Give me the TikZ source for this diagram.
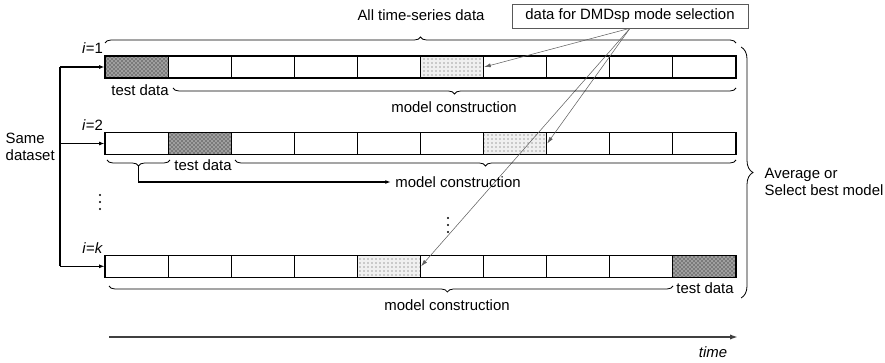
\documentclass[tikz,border=0pt]{standalone}
\usepackage{fontspec}
\setmainfont{Liberation Sans}
\usetikzlibrary{patterns,decorations.pathreplacing,arrows.meta}

\tikzset{
  cell/.style={draw, line width=0.8pt, minimum width=47.3pt, minimum height=16.5pt, inner sep=0pt},
  testcell/.style={preaction={fill=gray!75}, pattern=crosshatch dots, pattern color=black},
  selcell/.style={preaction={fill=gray!12}, pattern=dots, pattern color=gray!60!black},
  brc/.style={decorate, decoration={brace, amplitude=4.5pt}, line width=0.6pt},
  pick/.style={-{Latex[length=5pt,width=3pt]}, gray!75!black, line width=0.4pt},
  feed/.style={-{Latex[length=4pt,width=3pt]}, line width=0.8pt},
}

\begin{document}
\begin{tikzpicture}[x=0.75pt, y=-0.75pt, font=\fontsize{11.2}{13}\selectfont,
    c1-1/.style={testcell}, c1-6/.style={selcell},
    c2-2/.style={testcell}, c2-7/.style={selcell},
    ck-10/.style={testcell}, ck-5/.style={selcell}]
    \useasboundingbox (0,0) rectangle (885,363);

    % Rows of blocks
    \foreach \row/\y/\lab in {1/67/1, 2/143.5/2, k/266.3/\textit{k}}{
        \foreach \col in {1,...,10}
            \node[cell, c\row-\col/.try] (r\row-\col) at ({105+63.1*(\col-0.5)},\y) {};
        \node[anchor=south east, inner sep=1pt] (i\row) at (r\row-1.north west) {\textit{i}=\lab};
    }

    % All data
    \draw[brc] (105,43) -- (736,43);
    \node (all) at (421,15) {All time-series data};

    % Mode selection
    \node[draw=gray!70!black, minimum width=177pt, minimum height=18pt, inner sep=0pt] (sel) at (630,16) {data for DMDsp mode selection};
    \draw[pick] (sel.south) -- (r1-6.east);
    \draw[pick] (sel.south) -- (r2-7.east);
    \draw[pick] (sel.south) -- (rk-5.east);

    % Row 1
    \node (t1) at (140,90) {test data};
    \draw[brc] (736,88) -- (173,88);
    \node (m1) at (454,107) {model construction};

    % Row 2
    \draw[brc] (170,160) -- (107,160);
    \coordinate (tip2) at (138.5,166);
    \node (t2) at (203,165) {test data};
    \draw[brc] (736,160) -- (235,160);
    \node (m2) at (458,182) {model construction};
    \draw[feed] (tip2) |- (m2.west);

    % Row k
    \draw[brc, decoration={aspect=0.4}] (673,286) -- (109,286);
    \node (mk) at (447,305) {model construction};
    \node (tk) at (705,288) {test data};

    % Same dataset
    \node[align=left, anchor=west] (ds) at (1,147) {Same\\dataset};
    \coordinate (split) at (60,147);
    \draw[line width=0.8pt] (split |- r1-1.west) -- (split |- rk-1.west);
    \foreach \row in {1,2,k}
        \draw[feed] (split |- r\row-1.west) -- (r\row-1.west);

    % Result
    \draw[brc, decoration={amplitude=9pt}] (741,47) -- (741,298);
    \node[align=left, anchor=west] (avg) at (760,182) {Average or\\Select best model};

    % Dots
    \foreach \d in {0,7,14}{
        \fill (100,195+\d) circle (0.9pt);
        \fill (448,218+\d) circle (0.9pt);
    }

    % Time axis
    \coordinate (t0) at (109,337);
    \coordinate (tend) at (738,337);
    \draw[-{Latex[length=6pt,width=4pt]}, gray!50!black, line width=1.2pt] (t0) -- (tend);
    \node (time) at (713,352) {\textit{time}};

\end{tikzpicture}
\end{document}
